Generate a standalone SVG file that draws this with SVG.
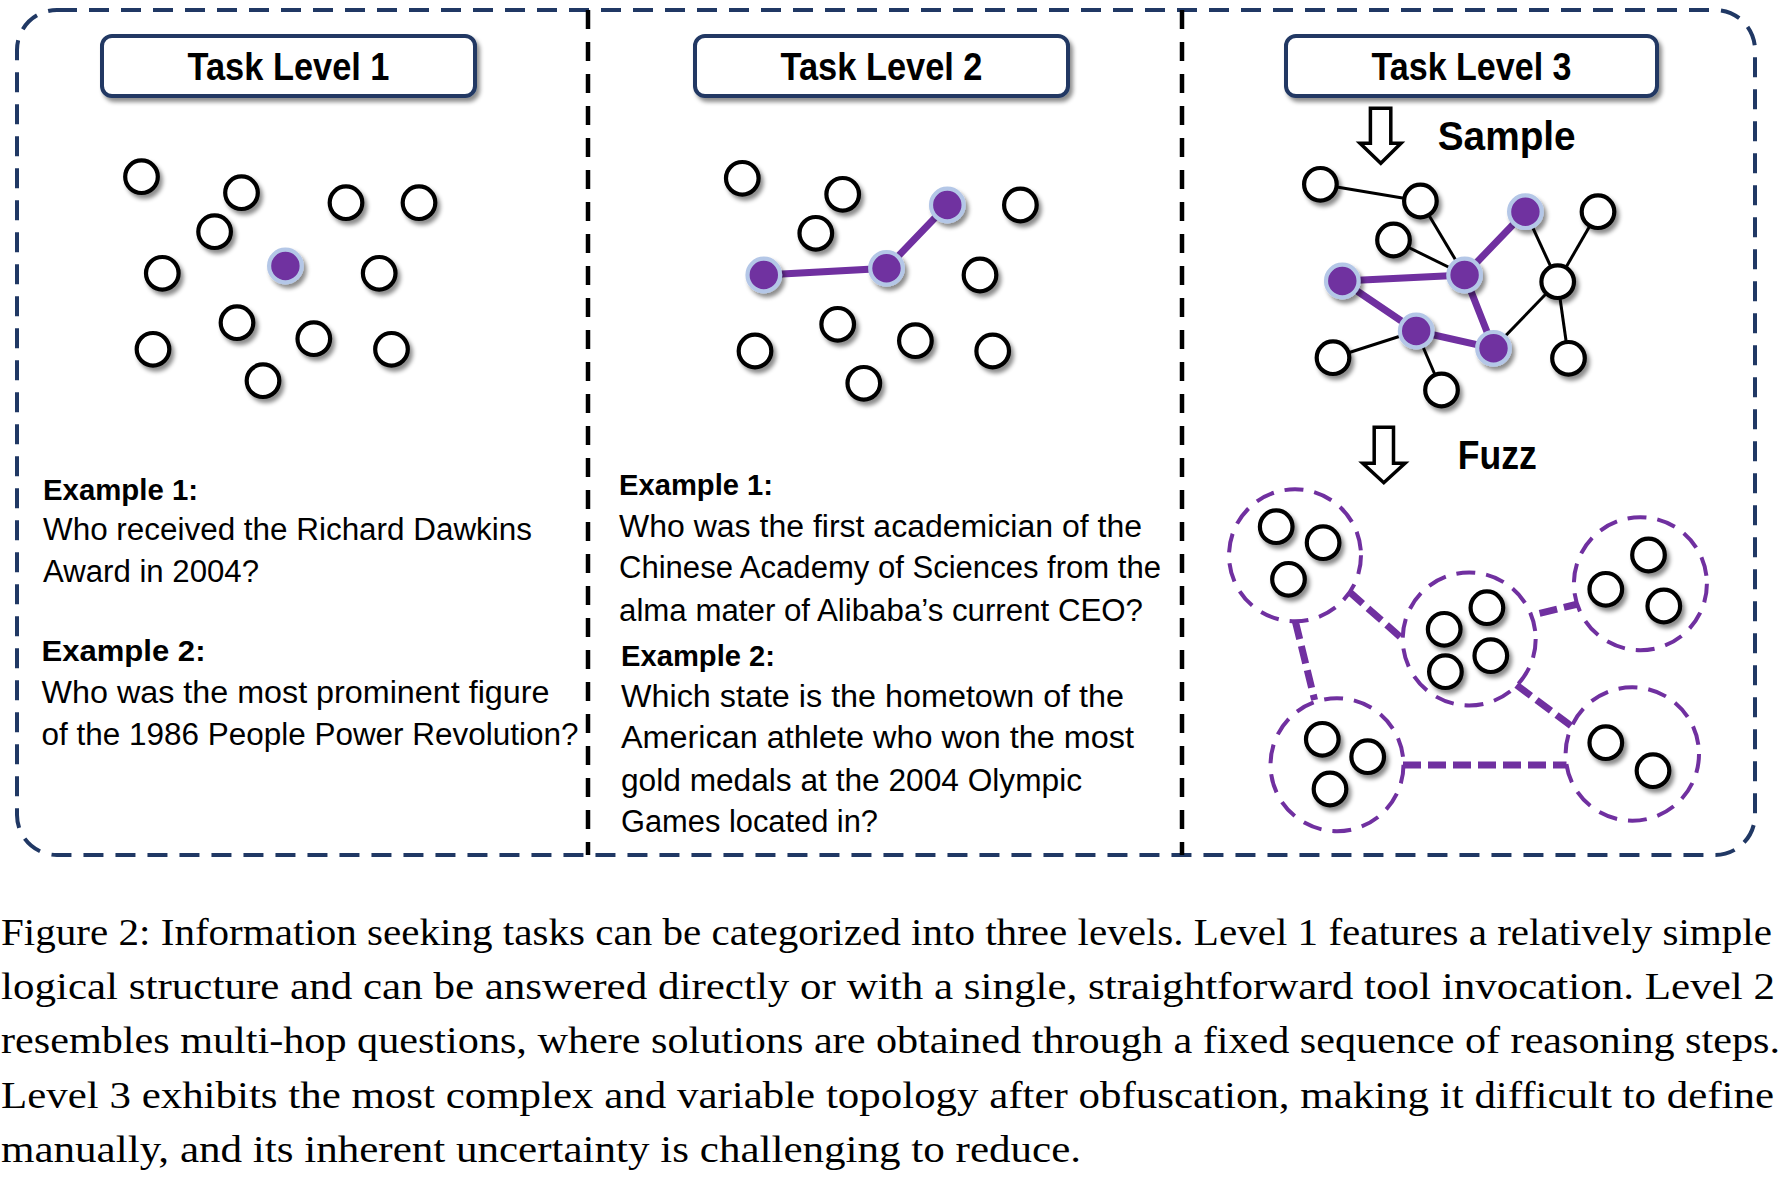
<svg xmlns="http://www.w3.org/2000/svg" width="1782" height="1180" viewBox="0 0 1782 1180">
<defs>
<filter id="sh" x="-40%" y="-40%" width="190%" height="190%">
<feDropShadow dx="3" dy="4" stdDeviation="2.2" flood-color="#000" flood-opacity="0.45"/>
</filter>
<style>
.n{fill:#fff;stroke:#000;stroke-width:4.2;filter:url(#sh)}
.p{fill:#7030a0;stroke:#b4c7e7;stroke-width:4.2;filter:url(#sh)}
.box{fill:#fff;stroke:#203864;stroke-width:4;filter:url(#sh)}
.ttl{font-family:"Liberation Sans",Arial,sans-serif;font-weight:bold;font-size:39px;fill:#000}
.lbl{font-family:"Liberation Sans",Arial,sans-serif;font-weight:bold;font-size:40px;fill:#000}
.ex{font-family:"Liberation Sans",Arial,sans-serif;font-weight:bold;font-size:30px;fill:#000}
.q{font-family:"Liberation Sans",Arial,sans-serif;font-size:31px;fill:#000}
.cap{font-family:"Liberation Serif","Times New Roman",serif;font-size:38.5px;fill:#000}
.be{stroke:#000;stroke-width:3;fill:none}
.pe{stroke:#7030a0;stroke-width:7;fill:none;stroke-linecap:round}
.pdc{fill:none;stroke:#7030a0;stroke-width:4;stroke-dasharray:19 11}
.pdl{fill:none;stroke:#7030a0;stroke-width:7;stroke-dasharray:18 7}
.arr{fill:#fff;stroke:#000;stroke-width:3.5;stroke-linejoin:miter}
</style>
</defs>
<rect width="1782" height="1180" fill="#fff"/>

<g id="frame">
<rect x="17" y="10" width="1738" height="845" rx="40" ry="40" fill="none" stroke="#203864" stroke-width="4" stroke-dasharray="20 12"/>
<line x1="588" y1="10" x2="588" y2="855" stroke="#000" stroke-width="4.5" stroke-dasharray="19 13"/>
<line x1="1182" y1="10" x2="1182" y2="855" stroke="#000" stroke-width="4.5" stroke-dasharray="19 13"/>
</g>

<g id="title1"><rect class="box" x="102" y="36" width="373" height="60" rx="10"/><text class="ttl" x="288.5" y="80" text-anchor="middle" textLength="202" lengthAdjust="spacingAndGlyphs">Task Level 1</text></g>
<g id="title2"><rect class="box" x="695" y="36" width="373" height="60" rx="10"/><text class="ttl" x="881.5" y="80" text-anchor="middle" textLength="202" lengthAdjust="spacingAndGlyphs">Task Level 2</text></g>
<g id="title3"><rect class="box" x="1286" y="36" width="371" height="60" rx="10"/><text class="ttl" x="1471.5" y="80" text-anchor="middle" textLength="200" lengthAdjust="spacingAndGlyphs">Task Level 3</text></g>

<g id="connectors">
<polyline class="pe" points="763.8,275 886.5,268.3 947.3,205"/>
<line class="be" x1="1320.4" y1="184.3" x2="1420.4" y2="201"/>
<line class="be" x1="1420.4" y1="201" x2="1464.6" y2="275"/>
<line class="be" x1="1393.5" y1="240" x2="1464.6" y2="275"/>
<line class="be" x1="1525.4" y1="211.7" x2="1557.7" y2="281.7"/>
<line class="be" x1="1598" y1="211.7" x2="1557.7" y2="281.7"/>
<line class="be" x1="1557.7" y1="281.7" x2="1493.5" y2="348.3"/>
<line class="be" x1="1557.7" y1="281.7" x2="1568.5" y2="358.3"/>
<line class="be" x1="1333" y1="357.7" x2="1416.2" y2="331"/>
<line class="be" x1="1416.2" y1="331" x2="1441.5" y2="390"/>
<line class="pe" x1="1342.3" y1="281" x2="1464.6" y2="275"/>
<line class="pe" x1="1464.6" y1="275" x2="1525.4" y2="211.7"/>
<line class="pe" x1="1342.3" y1="281" x2="1416.2" y2="331"/>
<line class="pe" x1="1416.2" y1="331" x2="1493.5" y2="348.3"/>
<line class="pe" x1="1464.6" y1="275" x2="1493.5" y2="348.3"/>
<line class="pdl" x1="1349.2" y1="591.7" x2="1403" y2="639.3"/>
<line class="pdl" x1="1539.6" y1="613.3" x2="1578" y2="604"/>
<line class="pdl" x1="1295.4" y1="621.7" x2="1314.6" y2="700"/>
<line class="pdl" x1="1516.5" y1="685" x2="1572.3" y2="726.7"/>
<line class="pdl" x1="1403" y1="765" x2="1566.5" y2="765"/>
<polygon class="arr" points="1370.4,108.3 1390.8,108.3 1390.8,143.3 1401,143.3 1380.8,163.3 1360,143.3 1370.4,143.3"/>
<polygon class="arr" points="1374.2,427.3 1393.5,427.3 1393.5,463.3 1405,463.3 1383.8,482.7 1362.7,463.3 1374.2,463.3"/>
</g>

<g id="level1-nodes">
<g id="l1n1"><circle class="n" cx="141.5" cy="176.7" r="16.3"/></g>
<g id="l1n2"><circle class="n" cx="241.5" cy="192.7" r="16.3"/></g>
<g id="l1n3"><circle class="n" cx="346" cy="202.7" r="16.3"/></g>
<g id="l1n4"><circle class="n" cx="419" cy="202.7" r="16.3"/></g>
<g id="l1n5"><circle class="n" cx="214.6" cy="231.7" r="16.3"/></g>
<g id="l1n6"><circle class="n" cx="162.3" cy="273.3" r="16.3"/></g>
<g id="l1n7"><circle class="p" cx="285.4" cy="266" r="16.3"/></g>
<g id="l1n8"><circle class="n" cx="379.2" cy="273.3" r="16.3"/></g>
<g id="l1n9"><circle class="n" cx="237" cy="322.7" r="16.3"/></g>
<g id="l1n10"><circle class="n" cx="313.8" cy="338.7" r="16.3"/></g>
<g id="l1n11"><circle class="n" cx="153" cy="349.3" r="16.3"/></g>
<g id="l1n12"><circle class="n" cx="391.5" cy="349.3" r="16.3"/></g>
<g id="l1n13"><circle class="n" cx="263" cy="380.7" r="16.3"/></g>
</g>

<g id="level2-nodes">
<g id="l2n1"><circle class="n" cx="742.3" cy="178.3" r="16.3"/></g>
<g id="l2n2"><circle class="n" cx="842.7" cy="194.3" r="16.3"/></g>
<g id="l2n3"><circle class="p" cx="947.3" cy="205" r="16.3"/></g>
<g id="l2n4"><circle class="n" cx="1020.4" cy="205" r="16.3"/></g>
<g id="l2n5"><circle class="n" cx="815.8" cy="233.3" r="16.3"/></g>
<g id="l2n6"><circle class="p" cx="763.8" cy="275" r="16.3"/></g>
<g id="l2n7"><circle class="p" cx="886.5" cy="268.3" r="16.3"/></g>
<g id="l2n8"><circle class="n" cx="980" cy="275" r="16.3"/></g>
<g id="l2n9"><circle class="n" cx="837.7" cy="324.3" r="16.3"/></g>
<g id="l2n10"><circle class="n" cx="915.4" cy="340.7" r="16.3"/></g>
<g id="l2n11"><circle class="n" cx="755" cy="351" r="16.3"/></g>
<g id="l2n12"><circle class="n" cx="992.7" cy="351" r="16.3"/></g>
<g id="l2n13"><circle class="n" cx="863.8" cy="383.3" r="16.3"/></g>
</g>

<g id="level3-sample-nodes">
<g id="l3a"><circle class="n" cx="1320.4" cy="184.3" r="16.3"/></g>
<g id="l3b"><circle class="n" cx="1420.4" cy="201" r="16.3"/></g>
<g id="l3c"><circle class="p" cx="1525.4" cy="211.7" r="16.3"/></g>
<g id="l3d"><circle class="n" cx="1598" cy="211.7" r="16.3"/></g>
<g id="l3e"><circle class="n" cx="1393.5" cy="240" r="16.3"/></g>
<g id="l3f"><circle class="p" cx="1342.3" cy="281" r="16.3"/></g>
<g id="l3g"><circle class="p" cx="1464.6" cy="275" r="16.3"/></g>
<g id="l3h"><circle class="n" cx="1557.7" cy="281.7" r="16.3"/></g>
<g id="l3i"><circle class="p" cx="1416.2" cy="331" r="16.3"/></g>
<g id="l3j"><circle class="p" cx="1493.5" cy="348.3" r="16.3"/></g>
<g id="l3k"><circle class="n" cx="1333" cy="357.7" r="16.3"/></g>
<g id="l3l"><circle class="n" cx="1568.5" cy="358.3" r="16.3"/></g>
<g id="l3m"><circle class="n" cx="1441.5" cy="390" r="16.3"/></g>
</g>

<g id="sample-label"><text class="lbl" x="1437.7" y="150" textLength="138" lengthAdjust="spacingAndGlyphs">Sample</text></g>
<g id="fuzz-label"><text class="lbl" x="1457.7" y="469.3" textLength="79" lengthAdjust="spacingAndGlyphs">Fuzz</text></g>

<g id="cluster1">
<circle class="pdc" cx="1295" cy="555.3" r="66"/>
<circle class="n" cx="1276.2" cy="526.7" r="16.3"/>
<circle class="n" cx="1323.1" cy="542.7" r="16.3"/>
<circle class="n" cx="1288.5" cy="579.3" r="16.3"/>
</g>
<g id="cluster2">
<circle class="pdc" cx="1469.2" cy="639" r="66.5"/>
<circle class="n" cx="1486.9" cy="607.7" r="16.3"/>
<circle class="n" cx="1444.2" cy="629.3" r="16.3"/>
<circle class="n" cx="1490.8" cy="655.7" r="16.3"/>
<circle class="n" cx="1445.4" cy="671.7" r="16.3"/>
</g>
<g id="cluster3">
<circle class="pdc" cx="1640.4" cy="583.7" r="66.5"/>
<circle class="n" cx="1648.5" cy="555" r="16.3"/>
<circle class="n" cx="1605.8" cy="589.3" r="16.3"/>
<circle class="n" cx="1663.8" cy="606" r="16.3"/>
</g>
<g id="cluster4">
<circle class="pdc" cx="1337" cy="764.7" r="66.5"/>
<circle class="n" cx="1322.3" cy="739.3" r="16.3"/>
<circle class="n" cx="1367.7" cy="756.7" r="16.3"/>
<circle class="n" cx="1330" cy="789" r="16.3"/>
</g>
<g id="cluster5">
<circle class="pdc" cx="1632.3" cy="754" r="66.7"/>
<circle class="n" cx="1605.8" cy="742.7" r="16.3"/>
<circle class="n" cx="1653" cy="770.7" r="16.3"/>
</g>

<g id="level1-text">
<text class="ex" x="43" y="500" textLength="155" lengthAdjust="spacingAndGlyphs">Example 1:</text>
<text class="q" x="43" y="540" textLength="489" lengthAdjust="spacingAndGlyphs">Who received the Richard Dawkins</text>
<text class="q" x="43" y="581.7" textLength="216" lengthAdjust="spacingAndGlyphs">Award in 2004?</text>
<text class="ex" x="41.5" y="660.7" textLength="164" lengthAdjust="spacingAndGlyphs">Example 2:</text>
<text class="q" x="41.5" y="703.3" textLength="508" lengthAdjust="spacingAndGlyphs">Who was the most prominent figure</text>
<text class="q" x="41.5" y="745" textLength="537" lengthAdjust="spacingAndGlyphs">of the 1986 People Power Revolution?</text>
</g>

<g id="level2-text">
<text class="ex" x="619" y="495" textLength="154" lengthAdjust="spacingAndGlyphs">Example 1:</text>
<text class="q" x="619" y="537.3" textLength="523" lengthAdjust="spacingAndGlyphs">Who was the first academician of the</text>
<text class="q" x="619" y="578.3" textLength="542" lengthAdjust="spacingAndGlyphs">Chinese Academy of Sciences from the</text>
<text class="q" x="619" y="621" textLength="524" lengthAdjust="spacingAndGlyphs">alma mater of Alibaba’s current CEO?</text>
<text class="ex" x="621" y="666" textLength="154" lengthAdjust="spacingAndGlyphs">Example 2:</text>
<text class="q" x="621" y="706.7" textLength="503" lengthAdjust="spacingAndGlyphs">Which state is the hometown of the</text>
<text class="q" x="621" y="748.3" textLength="513" lengthAdjust="spacingAndGlyphs">American athlete who won the most</text>
<text class="q" x="621" y="790.7" textLength="461" lengthAdjust="spacingAndGlyphs">gold medals at the 2004 Olympic</text>
<text class="q" x="621" y="831.7" textLength="257" lengthAdjust="spacingAndGlyphs">Games located in?</text>
</g>

<g id="caption">
<text class="cap" x="1" y="945" textLength="1771" lengthAdjust="spacingAndGlyphs">Figure 2: Information seeking tasks can be categorized into three levels.  Level 1 features a relatively simple</text>
<text class="cap" x="1" y="998.5" textLength="1774" lengthAdjust="spacingAndGlyphs">logical structure and can be answered directly or with a single, straightforward tool invocation.  Level 2</text>
<text class="cap" x="1" y="1053" textLength="1779" lengthAdjust="spacingAndGlyphs">resembles multi-hop questions, where solutions are obtained through a fixed sequence of reasoning steps.</text>
<text class="cap" x="1" y="1108" textLength="1773" lengthAdjust="spacingAndGlyphs">Level 3 exhibits the most complex and variable topology after obfuscation, making it difficult to define</text>
<text class="cap" x="1" y="1162" textLength="1080" lengthAdjust="spacingAndGlyphs">manually, and its inherent uncertainty is challenging to reduce.</text>
</g>
</svg>
